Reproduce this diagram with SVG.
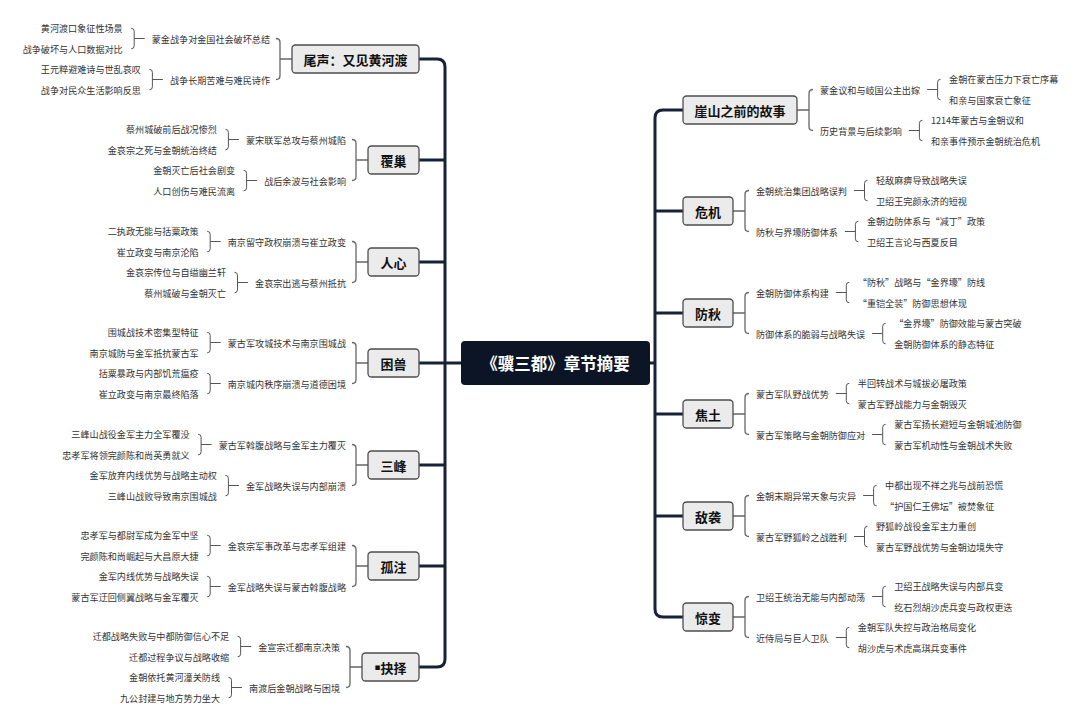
<svg xmlns="http://www.w3.org/2000/svg" width="1080" height="727" viewBox="0 0 1080 727">
<style>
text{font-family:"Noto Sans CJK SC","Noto Sans",sans-serif;dominant-baseline:central}
.t{font-size:9.1px;fill:#333}
.e{text-anchor:end}
.s{text-anchor:start}
.main rect{fill:#ebebeb;stroke:#4d4d4d;stroke-width:1.3}
.main text{font-size:13px;font-weight:bold;text-anchor:middle;fill:#111}
.trunk{stroke:#18213a;stroke-width:3;fill:none;stroke-linecap:round}
.b1{stroke:#666;stroke-width:1.3;fill:none}
.b2{stroke:#555;stroke-width:1;fill:none}
</style>
<rect width="1080" height="727" fill="#fff"/>
<g id="connectors">
<path class="trunk" d="M419,59H437Q445,59 445,67V659Q445,667 437,667H419 M445,160H419 M445,262H419 M445,363H461 M419,363H445 M445,465H419 M445,566H419"/>
<path class="trunk" d="M683,110H663Q655,110 655,118V609Q655,617 663,617H683 M655,211H683 M655,313H683 M650,363H655 M655,414H683 M655,516H683"/>
<path class="b1" d="M292,59H280 M276,38.5Q280,38.5 280,42.5V75.5Q280,79.5 276,79.5"/>
<path class="b1" d="M368,160H356 M352,139.5Q356,139.5 356,143.5V176.5Q356,180.5 352,180.5"/>
<path class="b1" d="M368,262H356 M352,241.5Q356,241.5 356,245.5V278.5Q356,282.5 352,282.5"/>
<path class="b1" d="M368,363H356 M352,342.5Q356,342.5 356,346.5V379.5Q356,383.5 352,383.5"/>
<path class="b1" d="M368,465H356 M352,444.5Q356,444.5 356,448.5V481.5Q356,485.5 352,485.5"/>
<path class="b1" d="M368,566H356 M352,545.5Q356,545.5 356,549.5V582.5Q356,586.5 352,586.5"/>
<path class="b1" d="M362,667H350 M346,646.5Q350,646.5 350,650.5V683.5Q350,687.5 346,687.5"/>
<path class="b2" d="M144.7,38.5H134.2 M131.2,28.3Q134.2,28.3 134.2,31.3V45.8Q134.2,48.8 131.2,48.8"/>
<path class="b2" d="M162.9,79.5H152.4 M149.4,69.3Q152.4,69.3 152.4,72.3V86.8Q152.4,89.8 149.4,89.8"/>
<path class="b2" d="M238.9,139.5H228.4 M225.4,129.3Q228.4,129.3 228.4,132.3V146.8Q228.4,149.8 225.4,149.8"/>
<path class="b2" d="M257.1,180.5H246.6 M243.6,170.3Q246.6,170.3 246.6,173.3V187.8Q246.6,190.8 243.6,190.8"/>
<path class="b2" d="M220.7,241.5H210.2 M207.2,231.3Q210.2,231.3 210.2,234.3V248.8Q210.2,251.8 207.2,251.8"/>
<path class="b2" d="M248,282.5H237.5 M234.5,272.3Q237.5,272.3 237.5,275.3V289.8Q237.5,292.8 234.5,292.8"/>
<path class="b2" d="M220.7,342.5H210.2 M207.2,332.3Q210.2,332.3 210.2,335.3V349.8Q210.2,352.8 207.2,352.8"/>
<path class="b2" d="M220.7,383.5H210.2 M207.2,373.3Q210.2,373.3 210.2,376.3V390.8Q210.2,393.8 207.2,393.8"/>
<path class="b2" d="M211.6,444.5H201.1 M198.1,434.3Q201.1,434.3 201.1,437.3V451.8Q201.1,454.8 198.1,454.8"/>
<path class="b2" d="M238.9,485.5H228.4 M225.4,475.3Q228.4,475.3 228.4,478.3V492.8Q228.4,495.8 225.4,495.8"/>
<path class="b2" d="M220.7,545.5H210.2 M207.2,535.3Q210.2,535.3 210.2,538.3V552.8Q210.2,555.8 207.2,555.8"/>
<path class="b2" d="M220.7,586.5H210.2 M207.2,576.3Q210.2,576.3 210.2,579.3V593.8Q210.2,596.8 207.2,596.8"/>
<path class="b2" d="M251.1,646.5H240.6 M237.6,636.3Q240.6,636.3 240.6,639.3V653.8Q240.6,656.8 237.6,656.8"/>
<path class="b2" d="M242,687.5H231.5 M228.5,677.3Q231.5,677.3 231.5,680.3V694.8Q231.5,697.8 228.5,697.8"/>
<path class="b1" d="M797,110H809 M813,89.5Q809,89.5 809,93.5V126.5Q809,130.5 813,130.5"/>
<path class="b1" d="M733,211H745 M749,190.5Q745,190.5 745,194.5V227.5Q745,231.5 749,231.5"/>
<path class="b1" d="M733,313H745 M749,292.5Q745,292.5 745,296.5V329.5Q745,333.5 749,333.5"/>
<path class="b1" d="M733,414H745 M749,393.5Q745,393.5 745,397.5V430.5Q745,434.5 749,434.5"/>
<path class="b1" d="M733,516H745 M749,495.5Q745,495.5 745,499.5V532.5Q745,536.5 749,536.5"/>
<path class="b1" d="M733,617H745 M749,596.5Q745,596.5 745,600.5V633.5Q745,637.5 749,637.5"/>
<path class="b2" d="M927.1,89.5H937.6 M940.6,79.3Q937.6,79.3 937.6,82.3V96.8Q937.6,99.8 940.6,99.8"/>
<path class="b2" d="M908.9,130.5H919.4 M922.4,120.3Q919.4,120.3 919.4,123.3V137.8Q919.4,140.8 922.4,140.8"/>
<path class="b2" d="M854,190.5H864.5 M867.5,180.3Q864.5,180.3 864.5,183.3V197.8Q864.5,200.8 867.5,200.8"/>
<path class="b2" d="M844.9,231.5H855.4 M858.4,221.3Q855.4,221.3 855.4,224.3V238.8Q855.4,241.8 858.4,241.8"/>
<path class="b2" d="M835.8,292.5H846.3 M849.3,282.3Q846.3,282.3 846.3,285.3V299.8Q846.3,302.8 849.3,302.8"/>
<path class="b2" d="M872.2,333.5H882.7 M885.7,323.3Q882.7,323.3 882.7,326.3V340.8Q882.7,343.8 885.7,343.8"/>
<path class="b2" d="M835.8,393.5H846.3 M849.3,383.3Q846.3,383.3 846.3,386.3V400.8Q846.3,403.8 849.3,403.8"/>
<path class="b2" d="M872.2,434.5H882.7 M885.7,424.3Q882.7,424.3 882.7,427.3V441.8Q882.7,444.8 885.7,444.8"/>
<path class="b2" d="M863.1,495.5H873.6 M876.6,485.3Q873.6,485.3 873.6,488.3V502.8Q873.6,505.8 876.6,505.8"/>
<path class="b2" d="M854,536.5H864.5 M867.5,526.3Q864.5,526.3 864.5,529.3V543.8Q864.5,546.8 867.5,546.8"/>
<path class="b2" d="M872.2,596.5H882.7 M885.7,586.3Q882.7,586.3 882.7,589.3V603.8Q882.7,606.8 885.7,606.8"/>
<path class="b2" d="M835.8,637.5H846.3 M849.3,627.3Q846.3,627.3 846.3,630.3V644.8Q846.3,647.8 849.3,647.8"/>
</g>
<g id="center">
<rect x="461" y="341" width="189" height="44" rx="4" fill="#0c1526"/>
<text x="555.5" y="363" font-size="16.5" font-weight="bold" fill="#fff" text-anchor="middle">《骥三都》章节摘要</text>
</g>
<g id="n-weisheng" class="main"><rect x="292" y="45" width="127" height="28" rx="3.5"/><text x="355.5" y="59">尾声：又见黄河渡</text></g>
<g id="n-fuchao" class="main"><rect x="368" y="146" width="51" height="28" rx="3.5"/><text x="393.5" y="160">覆巢</text></g>
<g id="n-renxin" class="main"><rect x="368" y="248" width="51" height="28" rx="3.5"/><text x="393.5" y="262">人心</text></g>
<g id="n-kunshou" class="main"><rect x="368" y="349" width="51" height="28" rx="3.5"/><text x="393.5" y="363">困兽</text></g>
<g id="n-sanfeng" class="main"><rect x="368" y="451" width="51" height="28" rx="3.5"/><text x="393.5" y="465">三峰</text></g>
<g id="n-guzhu" class="main"><rect x="368" y="552" width="51" height="28" rx="3.5"/><text x="393.5" y="566">孤注</text></g>
<g id="n-jueze" class="main"><rect x="362" y="653" width="57" height="28" rx="3.5"/><text x="390.5" y="667"><tspan font-family="DejaVu Sans" font-size="9">▪</tspan>抉择</text></g>
<g id="n-yashan" class="main"><rect x="683" y="96" width="114" height="28" rx="3.5"/><text x="740" y="110">崖山之前的故事</text></g>
<g id="n-weiji" class="main"><rect x="683" y="197" width="50" height="28" rx="3.5"/><text x="708" y="211">危机</text></g>
<g id="n-fangqiu" class="main"><rect x="683" y="299" width="50" height="28" rx="3.5"/><text x="708" y="313">防秋</text></g>
<g id="n-jiaotu" class="main"><rect x="683" y="400" width="50" height="28" rx="3.5"/><text x="708" y="414">焦土</text></g>
<g id="n-dixi" class="main"><rect x="683" y="502" width="50" height="28" rx="3.5"/><text x="708" y="516">敌袭</text></g>
<g id="n-jingbian" class="main"><rect x="683" y="603" width="50" height="28" rx="3.5"/><text x="708" y="617">惊变</text></g>
<g id="a1"><text class="t e" x="270" y="38.5">蒙金战争对金国社会破坏总结</text></g>
<g id="a1a"><text class="t e" x="122.7" y="28.3">黄河渡口象征性场景</text></g>
<g id="a1b"><text class="t e" x="122.7" y="48.8">战争破坏与人口数据对比</text></g>
<g id="a2"><text class="t e" x="270" y="79.5">战争长期苦难与难民诗作</text></g>
<g id="a2a"><text class="t e" x="140.9" y="69.3">王元粹避难诗与世乱哀叹</text></g>
<g id="a2b"><text class="t e" x="140.9" y="89.8">战争对民众生活影响反思</text></g>
<g id="b1"><text class="t e" x="346" y="139.5">蒙宋联军总攻与蔡州城陷</text></g>
<g id="b1a"><text class="t e" x="216.9" y="129.3">蔡州城破前后战况惨烈</text></g>
<g id="b1b"><text class="t e" x="216.9" y="149.8">金哀宗之死与金朝统治终结</text></g>
<g id="b2"><text class="t e" x="346" y="180.5">战后余波与社会影响</text></g>
<g id="b2a"><text class="t e" x="235.1" y="170.3">金朝灭亡后社会剧变</text></g>
<g id="b2b"><text class="t e" x="235.1" y="190.8">人口创伤与难民流离</text></g>
<g id="c1"><text class="t e" x="346" y="241.5">南京留守政权崩溃与崔立政变</text></g>
<g id="c1a"><text class="t e" x="198.7" y="231.3">二执政无能与括粟政策</text></g>
<g id="c1b"><text class="t e" x="198.7" y="251.8">崔立政变与南京沦陷</text></g>
<g id="c2"><text class="t e" x="346" y="282.5">金哀宗出逃与蔡州抵抗</text></g>
<g id="c2a"><text class="t e" x="226" y="272.3">金哀宗传位与自缢幽兰轩</text></g>
<g id="c2b"><text class="t e" x="226" y="292.8">蔡州城破与金朝灭亡</text></g>
<g id="d1"><text class="t e" x="346" y="342.5">蒙古军攻城技术与南京围城战</text></g>
<g id="d1a"><text class="t e" x="198.7" y="332.3">围城战技术密集型特征</text></g>
<g id="d1b"><text class="t e" x="198.7" y="352.8">南京城防与金军抵抗蒙古军</text></g>
<g id="d2"><text class="t e" x="346" y="383.5">南京城内秩序崩溃与道德困境</text></g>
<g id="d2a"><text class="t e" x="198.7" y="373.3">括粟暴政与内部饥荒瘟疫</text></g>
<g id="d2b"><text class="t e" x="198.7" y="393.8">崔立政变与南京最终陷落</text></g>
<g id="e1"><text class="t e" x="346" y="444.5">蒙古军斡腹战略与金军主力覆灭</text></g>
<g id="e1a"><text class="t e" x="189.6" y="434.3">三峰山战役金军主力全军覆没</text></g>
<g id="e1b"><text class="t e" x="189.6" y="454.8">忠孝军将领完颜陈和尚英勇就义</text></g>
<g id="e2"><text class="t e" x="346" y="485.5">金军战略失误与内部崩溃</text></g>
<g id="e2a"><text class="t e" x="216.9" y="475.3">金军放弃内线优势与战略主动权</text></g>
<g id="e2b"><text class="t e" x="216.9" y="495.8">三峰山战败导致南京围城战</text></g>
<g id="f1"><text class="t e" x="346" y="545.5">金哀宗军事改革与忠孝军组建</text></g>
<g id="f1a"><text class="t e" x="198.7" y="535.3">忠孝军与都尉军成为金军中坚</text></g>
<g id="f1b"><text class="t e" x="198.7" y="555.8">完颜陈和尚崛起与大昌原大捷</text></g>
<g id="f2"><text class="t e" x="346" y="586.5">金军战略失误与蒙古斡腹战略</text></g>
<g id="f2a"><text class="t e" x="198.7" y="576.3">金军内线优势与战略失误</text></g>
<g id="f2b"><text class="t e" x="198.7" y="596.8">蒙古军迂回侧翼战略与金军覆灭</text></g>
<g id="g1"><text class="t e" x="340" y="646.5">金宣宗迁都南京决策</text></g>
<g id="g1a"><text class="t e" x="229.1" y="636.3">迁都战略失败与中都防御信心不足</text></g>
<g id="g1b"><text class="t e" x="229.1" y="656.8">迁都过程争议与战略收缩</text></g>
<g id="g2"><text class="t e" x="340" y="687.5">南渡后金朝战略与困境</text></g>
<g id="g2a"><text class="t e" x="220" y="677.3">金朝依托黄河潼关防线</text></g>
<g id="g2b"><text class="t e" x="220" y="697.8">九公封建与地方势力坐大</text></g>
<g id="h1"><text class="t s" x="820" y="89.5">蒙金议和与岐国公主出嫁</text></g>
<g id="h1a"><text class="t s" x="949.1" y="79.3">金朝在蒙古压力下衰亡序幕</text></g>
<g id="h1b"><text class="t s" x="949.1" y="99.8">和亲与国家衰亡象征</text></g>
<g id="h2"><text class="t s" x="820" y="130.5">历史背景与后续影响</text></g>
<g id="h2a"><text class="t s" x="930.9" y="120.3">1214年蒙古与金朝议和</text></g>
<g id="h2b"><text class="t s" x="930.9" y="140.8">和亲事件预示金朝统治危机</text></g>
<g id="i1"><text class="t s" x="756" y="190.5">金朝统治集团战略误判</text></g>
<g id="i1a"><text class="t s" x="876" y="180.3">轻敌麻痹导致战略失误</text></g>
<g id="i1b"><text class="t s" x="876" y="200.8">卫绍王完颜永济的短视</text></g>
<g id="i2"><text class="t s" x="756" y="231.5">防秋与界壕防御体系</text></g>
<g id="i2a"><text class="t s" x="866.9" y="221.3">金朝边防体系与“减丁”政策</text></g>
<g id="i2b"><text class="t s" x="866.9" y="241.8">卫绍王言论与西夏反目</text></g>
<g id="j1"><text class="t s" x="756" y="292.5">金朝防御体系构建</text></g>
<g id="j1a"><text class="t s" x="857.8" y="282.3">“防秋”战略与“金界壕”防线</text></g>
<g id="j1b"><text class="t s" x="857.8" y="302.8">“重铠全装”防御思想体现</text></g>
<g id="j2"><text class="t s" x="756" y="333.5">防御体系的脆弱与战略失误</text></g>
<g id="j2a"><text class="t s" x="894.2" y="323.3">“金界壕”防御效能与蒙古突破</text></g>
<g id="j2b"><text class="t s" x="894.2" y="343.8">金朝防御体系的静态特征</text></g>
<g id="k1"><text class="t s" x="756" y="393.5">蒙古军队野战优势</text></g>
<g id="k1a"><text class="t s" x="857.8" y="383.3">半回转战术与城拔必屠政策</text></g>
<g id="k1b"><text class="t s" x="857.8" y="403.8">蒙古军野战能力与金朝毁灭</text></g>
<g id="k2"><text class="t s" x="756" y="434.5">蒙古军策略与金朝防御应对</text></g>
<g id="k2a"><text class="t s" x="894.2" y="424.3">蒙古军扬长避短与金朝城池防御</text></g>
<g id="k2b"><text class="t s" x="894.2" y="444.8">蒙古军机动性与金朝战术失败</text></g>
<g id="l1"><text class="t s" x="756" y="495.5">金朝末期异常天象与灾异</text></g>
<g id="l1a"><text class="t s" x="885.1" y="485.3">中都出现不祥之兆与战前恐慌</text></g>
<g id="l1b"><text class="t s" x="885.1" y="505.8">“护国仁王佛坛”被焚象征</text></g>
<g id="l2"><text class="t s" x="756" y="536.5">蒙古军野狐岭之战胜利</text></g>
<g id="l2a"><text class="t s" x="876" y="526.3">野狐岭战役金军主力重创</text></g>
<g id="l2b"><text class="t s" x="876" y="546.8">蒙古军野战优势与金朝边境失守</text></g>
<g id="m1"><text class="t s" x="756" y="596.5">卫绍王统治无能与内部动荡</text></g>
<g id="m1a"><text class="t s" x="894.2" y="586.3">卫绍王战略失误与内部兵变</text></g>
<g id="m1b"><text class="t s" x="894.2" y="606.8">纥石烈胡沙虎兵变与政权更迭</text></g>
<g id="m2"><text class="t s" x="756" y="637.5">近侍局与巨人卫队</text></g>
<g id="m2a"><text class="t s" x="857.8" y="627.3">金朝军队失控与政治格局变化</text></g>
<g id="m2b"><text class="t s" x="857.8" y="647.8">胡沙虎与术虎高琪兵变事件</text></g>
</svg>
